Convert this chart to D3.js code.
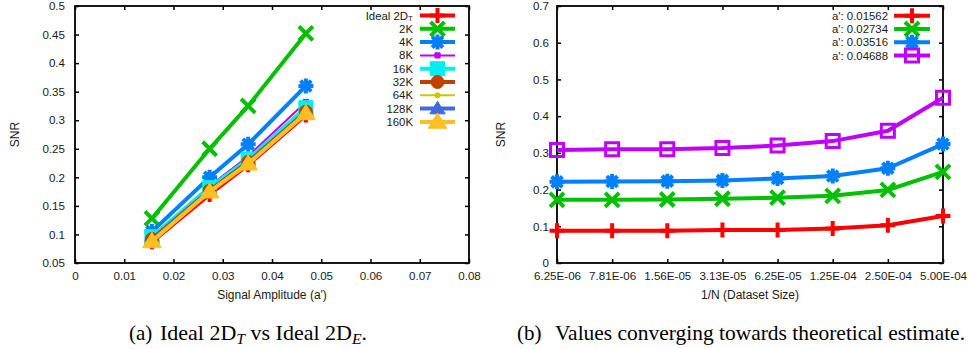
<!DOCTYPE html>
<html>
<head>
<meta charset="utf-8">
<script src="https://cdn.jsdelivr.net/npm/d3@7"></script>
<style>
  html, body { margin: 0; padding: 0; background: #fff; }
  svg { display: block; }
  text { font-family: "Liberation Sans", Arial, sans-serif; fill: #1a1a1a; }
  .cap { font-family: "Liberation Serif", "Times New Roman", serif; fill: #000; }
</style>
</head>
<body>
<svg id="fig" width="968" height="349"></svg>
<script>
// ---- (a) SNR vs signal amplitude, one series per dataset size ----
const amplitudes = [0.01562, 0.02734, 0.03516, 0.04688];
const snrIdeal2DT = [0.087, 0.170, 0.222, 0.309];
const snr2K   = [0.128, 0.250, 0.325, 0.452];
const snr4K   = [0.105, 0.200, 0.258, 0.360];
const snr8K   = [0.096, 0.185, 0.237, 0.332];
const snr16K  = [0.096, 0.182, 0.232, 0.322];
const snr32K  = [0.092, 0.177, 0.227, 0.315];
const snr64K  = [0.090, 0.176, 0.226, 0.314];
const snr128K = [0.089, 0.176, 0.225, 0.313];
const snr160K = [0.088, 0.175, 0.224, 0.312];
const seriesNamesA = ["Ideal 2D", "2K", "4K", "8K", "16K", "32K", "64K", "128K", "160K"];
const xTicksA = [0, 0.01, 0.02, 0.03, 0.04, 0.05, 0.06, 0.07, 0.08];
const yTicksA = [0.05, 0.1, 0.15, 0.2, 0.25, 0.3, 0.35, 0.4, 0.45, 0.5];

// ---- (b) SNR vs 1/N, one series per signal amplitude ----
const invN = ["6.25E-06", "7.81E-06", "1.56E-05", "3.13E-05", "6.25E-05", "1.25E-04", "2.50E-04", "5.00E-04"];
const snrA01562 = [0.088, 0.088, 0.088, 0.090, 0.090, 0.094, 0.103, 0.128];
const snrA02734 = [0.172, 0.172, 0.173, 0.175, 0.178, 0.183, 0.199, 0.248];
const snrA03516 = [0.221, 0.222, 0.223, 0.225, 0.230, 0.237, 0.258, 0.324];
const snrA04688 = [0.308, 0.310, 0.310, 0.313, 0.320, 0.332, 0.360, 0.450];
const seriesNamesB = ["a': 0.01562", "a': 0.02734", "a': 0.03516", "a': 0.04688"];
const yTicksB = [0, 0.1, 0.2, 0.3, 0.4, 0.5, 0.6, 0.7];

// gnuplot-style marker shapes, centred on (0,0)
function markerPath(kind, s) {
  switch (kind) {
    case "plus":  return `M${-s},0H${s}M0,${-s}V${s}`;
    case "cross": return `M${-s},${-s}L${s},${s}M${-s},${s}L${s},${-s}`;
    case "star": {
      const d = s * 0.72;
      return `M${-s},0H${s}M0,${-s}V${s}M${-d},${-d}L${d},${d}M${-d},${d}L${d},${-d}`;
    }
    case "square": case "osquare": return `M${-s},${-s}H${s}V${s}H${-s}Z`;
    case "circle": { const p = d3.path(); p.arc(0, 0, s, 0, 2 * Math.PI); return p.toString(); }
    case "tri": return `M0,${-s * 1.05}L${s * 1.1},${s * 0.75}L${-s * 1.1},${s * 0.75}Z`;
  }
}
const filledKinds = new Set(["square", "circle", "tri"]);

function drawMarker(g, kind, size, color, sw, x, y) {
  const filled = filledKinds.has(kind);
  g.append("path")
    .attr("transform", `translate(${x},${y})`)
    .attr("d", markerPath(kind, size))
    .attr("fill", filled ? color : "none")
    .attr("stroke", color)
    .attr("stroke-width", filled ? 1 : sw)
    .attr("stroke-linejoin", "miter");
}

const svg = d3.select("#fig");
const fontTick = 11.6;
const fontKey = 11.4;

function frame(g, x0, x1, y0, y1) {
  g.append("rect").attr("x", x0).attr("y", y0).attr("width", x1 - x0).attr("height", y1 - y0)
    .attr("fill", "none").attr("stroke", "#000").attr("stroke-width", 1.8);
}

function styleAxes(g, axes) {
  axes.forEach(([ax, tr]) => {
    const a = g.append("g").attr("transform", tr).call(ax);
    a.select(".domain").remove();
    a.selectAll(".tick line").attr("stroke", "#000").attr("stroke-width", 1.5);
    a.selectAll(".tick text").style("font-size", fontTick + "px")
      .style("font-family", "Liberation Sans, Arial, sans-serif").attr("fill", "#1a1a1a");
  });
}

// ================= Panel (a) =================
{
  const L = 75, R = 469, T = 6, B = 263;
  const x = d3.scaleLinear().domain([0, 0.08]).range([L, R]);
  const y = d3.scaleLinear().domain([0.05, 0.5]).range([B, T]);
  const g = svg.append("g");

  // inward ticks on all four sides
  styleAxes(g, [
    [d3.axisBottom(x).tickValues(xTicksA).tickSize(-4).tickPadding(9).tickFormat(d3.format("~g")), `translate(0,${B})`],
    [d3.axisTop(x).tickValues(xTicksA).tickSize(-4).tickFormat(""), `translate(0,${T})`],
    [d3.axisLeft(y).tickValues(yTicksA).tickSize(-4).tickPadding(10).tickFormat(d3.format("~g")), `translate(${L},0)`],
    [d3.axisRight(y).tickValues(yTicksA).tickSize(-4).tickFormat(""), `translate(${R},0)`],
  ]);
  frame(g, L, R, T, B);

  g.append("text").attr("transform", `translate(${19},${(T + B) / 2}) rotate(-90)`)
    .attr("text-anchor", "middle").style("font-size", "12px").text("SNR");
  g.append("text").attr("x", (L + R) / 2).attr("y", 299)
    .attr("text-anchor", "middle").style("font-size", "12px").text("Signal Amplitude (a')");

  const series = [
    { v: snrIdeal2DT, c: "#ff0000", k: "plus",   s: 7.5, lw: 4 },
    { v: snr2K,   c: "#00c000", k: "cross",  s: 7,   lw: 4 },
    { v: snr4K,   c: "#0080ff", k: "star",   s: 7.5, lw: 4 },
    { v: snr8K,   c: "#c000ff", k: "square", s: 2.6, lw: 2 },
    { v: snr16K,  c: "#00eeee", k: "square", s: 7,   lw: 4 },
    { v: snr32K,  c: "#c04000", k: "circle", s: 6.5, lw: 4 },
    { v: snr64K,  c: "#c8c800", k: "circle", s: 2.6, lw: 2 },
    { v: snr128K, c: "#4169e1", k: "tri",    s: 7,   lw: 4 },
    { v: snr160K, c: "#ffc020", k: "tri",    s: 8.5, lw: 4 },
  ];
  const line = d3.line().x((d, i) => x(amplitudes[i])).y(d => y(d));
  const ly0 = 15.5, ldy = 13.3, lx0 = 420, lx1 = 455, ltx = 413;

  series.forEach((s, si) => {
    g.append("path").datum(s.v).attr("d", line)
      .attr("fill", "none").attr("stroke", s.c).attr("stroke-width", s.lw).attr("stroke-linejoin", "miter");
    s.v.forEach((d, i) => drawMarker(g, s.k, s.s, s.c, 4, x(amplitudes[i]), y(d)));

    // key entry
    const ly = ly0 + si * ldy;
    g.append("line").attr("x1", lx0).attr("x2", lx1).attr("y1", ly).attr("y2", ly)
      .attr("stroke", s.c).attr("stroke-width", s.lw);
    drawMarker(g, s.k, s.s, s.c, 4, (lx0 + lx1) / 2, ly);
    const t = g.append("text").attr("x", ltx).attr("y", ly + 4).attr("text-anchor", "end")
      .style("font-size", fontKey + "px").text(seriesNamesA[si]);
    if (si === 0) t.append("tspan").attr("dy", 1.6).style("font-size", "8px").text("T");
  });
}

// ================= Panel (b) =================
{
  const L = 557, R = 943, T = 6, B = 263;
  const x = d3.scalePoint().domain(invN).range([L, R]);
  const y = d3.scaleLinear().domain([0, 0.7]).range([B, T]);
  const g = svg.append("g");

  styleAxes(g, [
    [d3.axisBottom(x).tickSize(-4).tickPadding(9), `translate(0,${B})`],
    [d3.axisTop(x).tickSize(-4).tickFormat(""), `translate(0,${T})`],
    [d3.axisLeft(y).tickValues(yTicksB).tickSize(-4).tickPadding(8).tickFormat(d3.format("~g")), `translate(${L},0)`],
    [d3.axisRight(y).tickValues(yTicksB).tickSize(-4).tickFormat(""), `translate(${R},0)`],
  ]);
  frame(g, L, R, T, B);

  g.append("text").attr("transform", `translate(${505},${(T + B) / 2}) rotate(-90)`)
    .attr("text-anchor", "middle").style("font-size", "12px").text("SNR");
  g.append("text").attr("x", (L + R) / 2).attr("y", 299)
    .attr("text-anchor", "middle").style("font-size", "12px").text("1/N (Dataset Size)");

  const series = [
    { v: snrA01562, c: "#ff0000", k: "plus",    s: 7.5 },
    { v: snrA02734, c: "#00c000", k: "cross",   s: 7 },
    { v: snrA03516, c: "#0080ff", k: "star",    s: 7.5 },
    { v: snrA04688, c: "#c000ff", k: "osquare", s: 6.5 },
  ];
  const line = d3.line().x((d, i) => x(invN[i])).y(d => y(d));
  const ly0 = 15.7, ldy = 13.3, lx0 = 894, lx1 = 930, ltx = 888;

  series.forEach((s, si) => {
    g.append("path").datum(s.v).attr("d", line)
      .attr("fill", "none").attr("stroke", s.c).attr("stroke-width", 4);
    s.v.forEach((d, i) => drawMarker(g, s.k, s.s, s.c, s.k === "osquare" ? 3 : 4, x(invN[i]), y(d)));

    const ly = ly0 + si * ldy;
    g.append("line").attr("x1", lx0).attr("x2", lx1).attr("y1", ly).attr("y2", ly)
      .attr("stroke", s.c).attr("stroke-width", 4);
    drawMarker(g, s.k, s.s, s.c, s.k === "osquare" ? 3 : 4, (lx0 + lx1) / 2, ly);
    g.append("text").attr("x", ltx).attr("y", ly + 4).attr("text-anchor", "end")
      .style("font-size", fontKey + "px").text(seriesNamesB[si]);
  });
}

// ================= Sub-captions =================
// Each caption: a label, then a body run stretched to the given width.
function caption(x0, x1, width, label, parts) {
  const cs = 21, base = 339.5, subShift = 4;
  svg.append("text").attr("class", "cap").attr("x", x0).attr("y", base)
    .style("font-size", cs + "px").text(label);
  const t = svg.append("text").attr("class", "cap").attr("x", x1).attr("y", base)
    .style("font-size", cs + "px");
  let shifted = false;
  parts.forEach(p => {
    const span = t.append("tspan");
    if (p.sub) {
      span.attr("dy", subShift).style("font-size", "15px").style("font-style", "italic").text(p.sub);
      shifted = true;
    } else {
      if (shifted) { span.attr("dy", -subShift); shifted = false; }
      span.text(p.t);
    }
  });
  const w = t.node().getComputedTextLength();
  if (w > 0) t.attr("textLength", width).attr("lengthAdjust", "spacingAndGlyphs");
  return t;
}
caption(129, 160, 207, "(a)", [{ t: "Ideal 2D" }, { sub: "T" }, { t: " vs Ideal 2D" }, { sub: "E" }, { t: "." }]);
caption(517, 555, 410, "(b)", [{ t: "Values converging towards theoretical estimate." }]);
</script>
</body>
</html>
